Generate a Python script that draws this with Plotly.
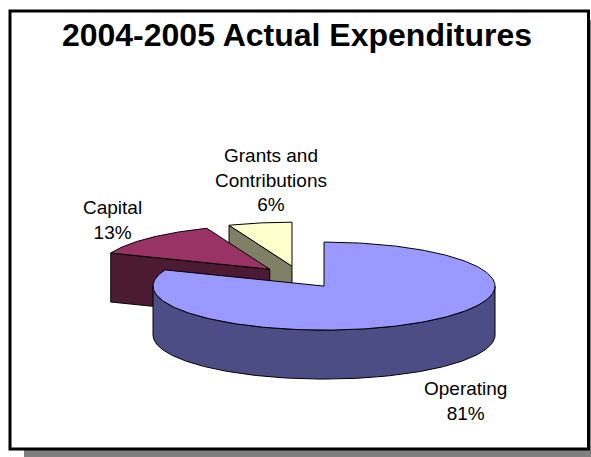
import numpy as np
import plotly.graph_objects as go

# ---- data ----
categories = ["Operating", "Capital", "Grants and Contributions"]
shares = [81, 13, 6]
label_text = ["Operating", "Capital", "Grants and<br>Contributions"]
title_text = "2004-2005 Actual Expenditures"

# ---- styles ----
top_colors = ["#9999FF", "#993366", "#FFFFCC"]
side_colors = ["#4D4D86", "#4D1A33", "#808066"]
label_pos = [(465, 401), (112, 220), (271, 180)]

W, H = 591, 457
CX, CY, A, B, DEPTH, EXPLODE = 300, 277, 171, 44, 49, 0.25
FONT = "Liberation Sans, Arial, sans-serif"


def pt(vx, vy, t):
    r = np.radians(t)
    return vx + A * np.sin(r), vy - B * np.cos(r)


def arc(vx, vy, t1, t2, dy=0.0):
    n = max(int(abs(t2 - t1)) + 2, 3)
    ts = np.linspace(t1, t2, n)
    xs, ys = pt(vx, vy, ts)
    return list(xs), list(ys + dy)


total = float(sum(shares))
slices = []
start = 0.0
for i, v in enumerate(shares):
    t1 = start
    t2 = start + 360.0 * v / total
    start = t2
    phi = np.radians((t1 + t2) / 2)
    vx = CX + EXPLODE * A * np.sin(phi)
    vy = CY - EXPLODE * B * np.cos(phi)
    slices.append(dict(i=i, t1=t1, t2=t2, vx=vx, vy=vy))

fig = go.Figure()


def poly(xs, ys, color):
    fig.add_trace(go.Scatter(
        x=xs + [xs[0]], y=ys + [ys[0]], mode="lines", fill="toself",
        fillcolor=color, line=dict(color="black", width=1),
        hoverinfo="skip", showlegend=False))


# draw back slices first
for s in sorted(slices, key=lambda s: s["vy"]):
    i, t1, t2, vx, vy = s["i"], s["t1"], s["t2"], s["vx"], s["vy"]
    # radial face at start angle (visible when facing the viewer)
    if 180 < t1 < 360:
        px, py = pt(vx, vy, t1)
        poly([vx, px, px, vx], [vy, py, py + DEPTH, vy + DEPTH], side_colors[i])
    # radial face at end angle
    if 0 < t2 < 180:
        px, py = pt(vx, vy, t2)
        poly([vx, px, px, vx], [vy, py, py + DEPTH, vy + DEPTH], side_colors[i])
    # outer wall (front half only)
    ws, we = max(t1, 90), min(t2, 270)
    if we > ws:
        x1, y1 = arc(vx, vy, ws, we)
        x2, y2 = arc(vx, vy, we, ws, DEPTH)
        poly(x1 + x2, y1 + y2, side_colors[i])
    # top face
    xa, ya = arc(vx, vy, t1, t2)
    poly([vx] + xa, [vy] + ya, top_colors[i])

annotations = []
for i, name in enumerate(label_text):
    pct = round(100.0 * shares[i] / total)
    x, y = label_pos[i]
    annotations.append(dict(
        x=x, y=y, xref="x", yref="y", text=f"{name}<br>{pct}%",
        showarrow=False, xanchor="center", yanchor="middle",
        font=dict(family=FONT, size=19, color="black")))

shapes = [
    dict(type="rect", xref="x", yref="y", x0=24, y0=20, x1=600, y1=470,
         fillcolor="#808080", line=dict(width=0), layer="below"),
    dict(type="rect", xref="x", yref="y", x0=10, y0=11, x1=588.5, y1=449,
         fillcolor="white", line=dict(color="black", width=3), layer="below"),
]

fig.update_layout(
    width=W, height=H, margin=dict(l=0, r=0, t=0, b=0),
    paper_bgcolor="white", plot_bgcolor="white",
    xaxis=dict(range=[0, W], visible=False, fixedrange=True),
    yaxis=dict(range=[H, 0], visible=False, fixedrange=True),
    title=dict(text=title_text, x=297 / W, xanchor="center",
               y=1 - 35 / H, yanchor="middle",
               font=dict(family=FONT, size=32, color="black", weight="bold")),
    annotations=annotations, shapes=shapes, showlegend=False,
)

fig.write_html("out.html")
